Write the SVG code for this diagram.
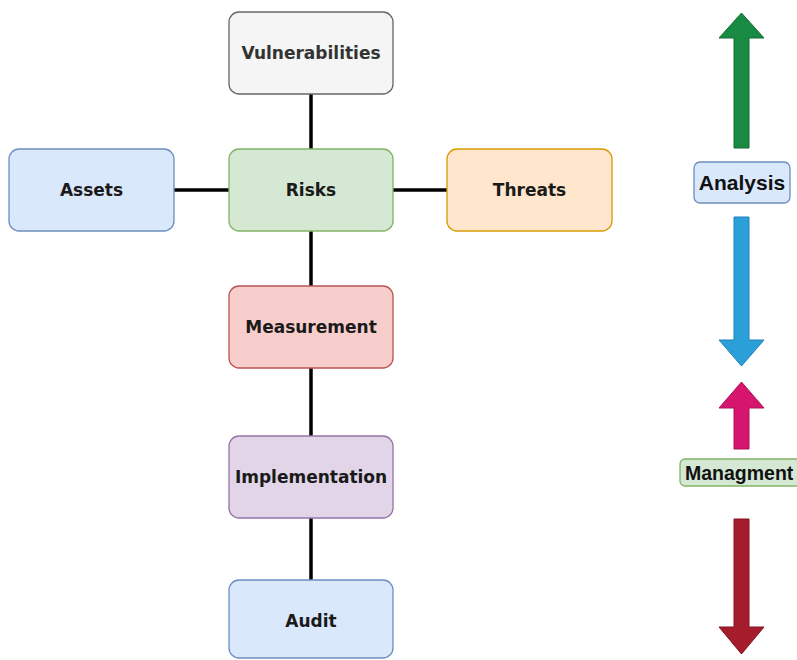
<svg xmlns="http://www.w3.org/2000/svg" width="797" height="660" viewBox="0 0 797 660">
<style>
.n{stroke-width:1.3}
.t{font-family:"DejaVu Sans","Liberation Sans",sans-serif;font-weight:bold;font-size:17px;text-anchor:middle;fill:#1a1a1a}
.lt{font-family:"Liberation Sans",Arial,sans-serif;font-weight:bold;font-size:21px;fill:#111}
.c{stroke:#000;stroke-width:3.5;fill:none}
</style>
<rect width="797" height="660" fill="#fff"/>
<g id="connectors">
<line class="c" x1="311" y1="94" x2="311" y2="149"/>
<line class="c" x1="311" y1="231" x2="311" y2="286"/>
<line class="c" x1="311" y1="368" x2="311" y2="436"/>
<line class="c" x1="311" y1="518" x2="311" y2="580"/>
<line class="c" x1="174" y1="190" x2="229" y2="190"/>
<line class="c" x1="393" y1="190" x2="447" y2="190"/>
</g>
<g id="vulnerabilities"><rect class="n" x="229" y="12" width="164" height="82" rx="10" fill="#f5f5f5" stroke="#666"/><text class="t" x="311" y="59" style="fill:#333">Vulnerabilities</text></g>
<g id="assets"><rect class="n" x="9" y="149" width="165" height="82" rx="10" fill="#dae8fc" stroke="#6c8ebf"/><text class="t" x="91.5" y="196">Assets</text></g>
<g id="risks"><rect class="n" x="229" y="149" width="164" height="82" rx="10" fill="#d5e8d4" stroke="#82b366"/><text class="t" x="311" y="196">Risks</text></g>
<g id="threats"><rect class="n" x="447" y="149" width="165" height="82" rx="10" fill="#ffe6cc" stroke="#d79b00"/><text class="t" x="529.5" y="196">Threats</text></g>
<g id="measurement"><rect class="n" x="229" y="286" width="164" height="82" rx="10" fill="#f8cecc" stroke="#b85450"/><text class="t" x="311" y="333">Measurement</text></g>
<g id="implementation"><rect class="n" x="229" y="436" width="164" height="82" rx="10" fill="#e1d5e7" stroke="#9673a6"/><text class="t" x="311" y="483">Implementation</text></g>
<g id="audit"><rect class="n" x="229" y="580" width="164" height="78" rx="10" fill="#dae8fc" stroke="#6c8ebf"/><text class="t" x="311" y="627">Audit</text></g>
<g id="arrow-up-green"><polygon points="734,148 749,148 749,38 764,38 741.5,13 719,38 734,38" fill="#188a42" stroke="#0f6e33" stroke-width="1"/></g>
<g id="analysis"><rect x="694" y="162" width="96" height="41" rx="6" fill="#dae8fc" stroke="#6c8ebf" stroke-width="1.3"/><text class="lt" x="742" y="190" text-anchor="middle">Analysis</text></g>
<g id="arrow-down-blue"><polygon points="734,217 749,217 749,340 764,340 741.5,366 719,340 734,340" fill="#2a9fd8" stroke="#1f82bd" stroke-width="1"/></g>
<g id="arrow-up-magenta"><polygon points="734,449 749,449 749,408 764,408 741.5,382 719,408 734,408" fill="#d6156f" stroke="#b01058" stroke-width="1"/></g>
<g id="managment"><rect x="680" y="459" width="130" height="27" rx="5" fill="#d5e8d4" stroke="#82b366" stroke-width="1.3"/><text class="lt" x="685" y="480" style="font-size:19.5px">Managment</text></g>
<g id="arrow-down-red"><polygon points="734,519 749,519 749,627 764,627 741.5,654 719,627 734,627" fill="#a51d2d" stroke="#85151f" stroke-width="1"/></g>
</svg>
